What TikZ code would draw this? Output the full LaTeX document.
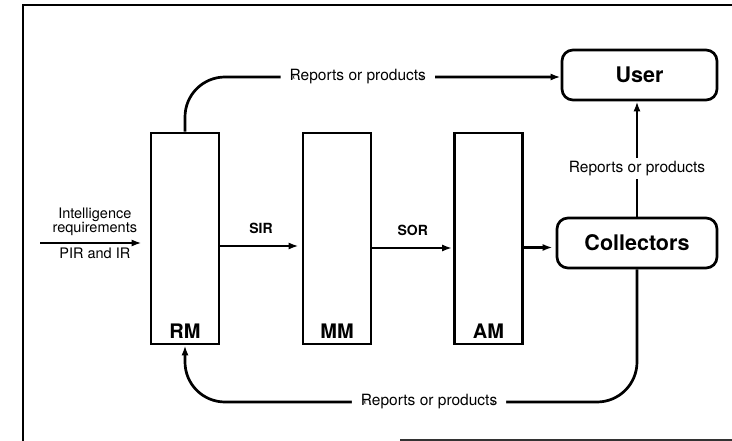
\documentclass[tikz,border=0pt]{standalone}
\usepackage{fontspec}
\setmainfont{TeX Gyre Heros}
\usetikzlibrary{arrows.meta,positioning}

\begin{document}
\begin{tikzpicture}[x=1pt, y=-1pt, line width=2.7pt, >={Latex[length=10pt,width=7pt]}]
        \tikzstyle{mbox}=[draw, minimum width=68pt, minimum height=211pt, inner sep=0pt]
        \tikzstyle{rbox}=[draw, rounded corners=11pt, minimum height=50pt, inner sep=0pt, font=\fontsize{21.5}{24}\selectfont\bfseries]
        \tikzstyle{mlbl}=[font=\fontsize{20}{22}\selectfont\bfseries, anchor=base]
        \tikzstyle{rep}=[fill=white, inner xsep=9pt, font=\fontsize{15.5}{17}\selectfont]
        \tikzstyle{msg}=[font=\fontsize{14}{16}\selectfont\bfseries]
        \useasboundingbox (0,0) rectangle (732,441);
        % frame
        \draw[line width=2pt] (23,441) -- (23,5) -- (732,5);
        \draw[line width=2pt, black!80] (400,440) -- (732,440);
        % boxes
        \node [mbox] (RM) at (185,238.5) {};
        \node [mbox] (MM) at (337,238.5) {};
        \node [mbox] (AM) at (488.5,238.5) {};
        \node [mlbl] at (185,338) {RM};
        \node [mlbl] at (337,338) {MM};
        \node [mlbl] at (488.5,338) {AM};
        \node [rbox, minimum width=155pt] (user) at (639.5,75) {User};
        \node [rbox, minimum width=160pt] (coll) at (637,243) {Collectors};
        \coordinate (in) at (40,243);
        \coordinate (base) at (0,402);
        % flows
        \draw [->, shorten >=8pt] (in) -- node [above, inner sep=6pt, align=center, font=\fontsize{14.5}{13}\selectfont] {Intelligence\\requirements} node [below, font=\fontsize{14.5}{16}\selectfont] {PIR and IR} (in -| RM.west);
        \draw [->, shorten >=3pt] ([yshift=-7.5pt]RM.east) -- node [msg, above=8pt] {SIR} ([yshift=-7.5pt]MM.west);
        \draw [->, shorten >=1pt] ([yshift=-9.5pt]MM.east) -- node [msg, above=8pt] {SOR} ([yshift=-9.5pt]AM.west);
        \draw [->, shorten >=3pt] ([yshift=-9pt]AM.east) -- ([yshift=-9pt]AM.east -| coll.west);
        \draw [->, rounded corners=40pt] (RM.north) -- ([yshift=-2pt]RM.north |- user.west) -- node [rep, pos=0.46] {Reports or products} ([yshift=-2pt]user.west);
        \draw [->] (coll.north) -- node [rep, inner xsep=2pt, pos=0.42] {Reports or products} (coll.north |- user.south);
        \draw [->, rounded corners=40pt] (coll.south) -- (coll.south |- base) -- node [rep, pos=0.46] {Reports or products} (RM.south |- base) -- (RM.south);
    \end{tikzpicture}
\end{document}
